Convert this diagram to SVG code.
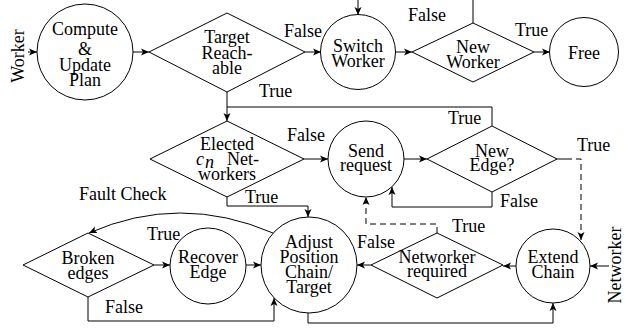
<svg xmlns="http://www.w3.org/2000/svg" width="625" height="333" viewBox="0 0 625 333">
<style>
.s{fill:#fff;stroke:#000;stroke-width:1}
.l{fill:none;stroke:#000;stroke-width:1}
.d{fill:none;stroke:#000;stroke-width:1;stroke-dasharray:6 4}
text{font-family:"Liberation Serif","Times New Roman",serif;font-size:18px;fill:#000}
.c{text-anchor:middle}
</style>
<defs>
<marker id="a" markerUnits="userSpaceOnUse" markerWidth="9" markerHeight="8" refX="8" refY="4" orient="auto">
<path d="M0,0.5 L8,4 L0,7.5 L2,4 z" fill="#000"/>
</marker>
</defs>
<g id="connectors">
<path class="l" d="M28,52 H37" marker-end="url(#a)"/>
<path class="l" d="M133,52 H149" marker-end="url(#a)"/>
<path class="l" d="M305,52 H321" marker-end="url(#a)"/>
<path class="l" d="M358,0 V15" marker-end="url(#a)"/>
<path class="l" d="M395,52 H412" marker-end="url(#a)"/>
<path class="l" d="M473,23 V0"/>
<path class="l" d="M534,52 H550" marker-end="url(#a)"/>
<path class="l" d="M227,92 V121" marker-end="url(#a)"/>
<path class="l" d="M492,126 V107 H227"/>
<path class="l" d="M304,159 H328" marker-end="url(#a)"/>
<path class="l" d="M404,159 H427" marker-end="url(#a)"/>
<path class="l" d="M492,192 V207 H392 V187" marker-end="url(#a)"/>
<path class="l" d="M557,159 H566"/>
<path class="d" d="M566,159 H581 V240" marker-end="url(#a)"/>
<path class="l" d="M227,197 V206 H308 V217" marker-end="url(#a)"/>
<path class="d" d="M437,233 V224 H366 V197" marker-end="url(#a)"/>
<path class="l" d="M516,266 H503" marker-end="url(#a)"/>
<path class="l" d="M371,265 H357" marker-end="url(#a)"/>
<path class="l" d="M609,266 H590" marker-end="url(#a)"/>
<path class="l" d="M308,313 V323 H553 V303" marker-end="url(#a)"/>
<path class="l" d="M88,297 V321 H274 V298" marker-end="url(#a)"/>
<path class="l" d="M154,265 H170" marker-end="url(#a)"/>
<path class="l" d="M246,265 H261" marker-end="url(#a)"/>
<path class="l" d="M273,233 Q180,193 89,233" marker-end="url(#a)"/>
</g>
<g id="labels">
<text transform="translate(24,56) rotate(-90)" class="c">Worker</text>
<text transform="translate(621,265) rotate(-90)" class="c">Networker</text>
<text x="284" y="37">False</text>
<text x="259" y="97">True</text>
<text x="408" y="21">False</text>
<text x="515" y="36">True</text>
<text x="287" y="141">False</text>
<text x="448" y="124">True</text>
<text x="577" y="151">True</text>
<text x="500" y="207">False</text>
<text x="79" y="200">Fault Check</text>
<text x="245" y="203">True</text>
<text x="147" y="240">True</text>
<text x="105" y="313">False</text>
<text x="357" y="248">False</text>
<text x="452" y="232">True</text>
</g>
<g id="compute">
<circle class="s" cx="85" cy="52" r="48"/>
<text class="c" x="85" y="35">Compute</text>
<text class="c" x="85" y="55">&amp;</text>
<text class="c" x="85" y="71">Update</text>
<text class="c" x="85" y="86">Plan</text>
</g>
<g id="target-reachable">
<polygon class="s" points="149,52 227,13 305,52 227,92"/>
<text class="c" x="227" y="43">Target</text>
<text class="c" x="227" y="59">Reach-</text>
<text class="c" x="227" y="74">able</text>
</g>
<g id="switch-worker">
<circle class="s" cx="358" cy="52" r="37.5"/>
<text class="c" x="358" y="52">Switch</text>
<text class="c" x="358" y="67">Worker</text>
</g>
<g id="new-worker">
<polygon class="s" points="412,52 473,23 534,52 473,82"/>
<text class="c" x="473" y="53">New</text>
<text class="c" x="473" y="68">Worker</text>
</g>
<g id="free">
<circle class="s" cx="584" cy="52" r="34.5"/>
<text class="c" x="584" y="59">Free</text>
</g>
<g id="elected">
<polygon class="s" points="150,159 227,121 304,159 227,197"/>
<text class="c" x="227" y="150">Elected</text>
<text x="196" y="165" font-style="italic">c</text>
<text x="205" y="168" font-style="italic" font-size="13">n</text>
<text x="227" y="165">Net-</text>
<text class="c" x="227" y="180">workers</text>
</g>
<g id="send-request">
<circle class="s" cx="366" cy="159" r="38"/>
<text class="c" x="366" y="157">Send</text>
<text class="c" x="366" y="171">request</text>
</g>
<g id="new-edge">
<polygon class="s" points="427,159 492,126 557,159 492,192"/>
<text class="c" x="492" y="157">New</text>
<text class="c" x="492" y="171">Edge?</text>
</g>
<g id="broken-edges">
<polygon class="s" points="23,265 88,233 154,265 88,297"/>
<text class="c" x="88" y="264">Broken</text>
<text class="c" x="88" y="279">edges</text>
</g>
<g id="recover-edge">
<circle class="s" cx="208" cy="266" r="38"/>
<text class="c" x="208" y="263">Recover</text>
<text class="c" x="208" y="278">Edge</text>
</g>
<g id="adjust">
<circle class="s" cx="309" cy="265" r="48"/>
<text class="c" x="309" y="248">Adjust</text>
<text class="c" x="309" y="263">Position</text>
<text class="c" x="309" y="278">Chain/</text>
<text class="c" x="309" y="293">Target</text>
</g>
<g id="networker-required">
<polygon class="s" points="371,265 437,233 503,265 437,298"/>
<text class="c" x="437" y="263">Networker</text>
<text class="c" x="437" y="277">required</text>
</g>
<g id="extend-chain">
<circle class="s" cx="553" cy="266" r="37"/>
<text class="c" x="553" y="263">Extend</text>
<text class="c" x="553" y="278">Chain</text>
</g>
</svg>
